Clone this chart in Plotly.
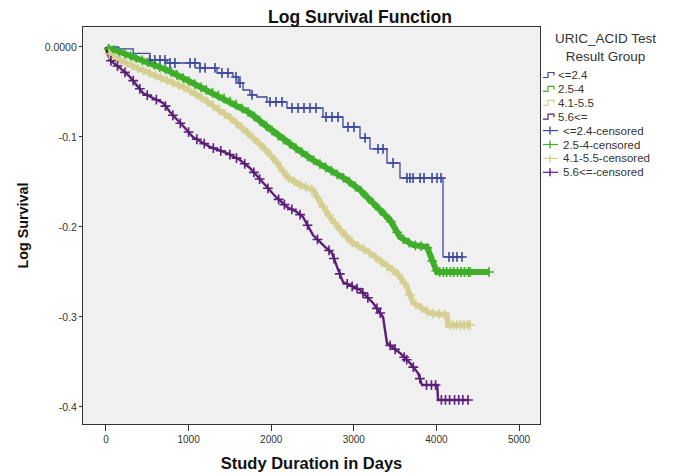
import numpy as np
import plotly.graph_objects as go

# ---------------- data ----------------
x_ticks = [0, 1000, 2000, 3000, 4000, 5000]
y_ticks = [0.0, -0.1, -0.2, -0.3, -0.4]
y_tick_labels = ["0.0000", "-0.1", "-0.2", "-0.3", "-0.4"]

groups = ["<=2.4", "2.5-4", "4.1-5.5", "5.6<="]
legend_title = "URIC_ACID Test<br>Result Group"

# curve points (days, log survival)
blue_t = [0, 150, 330, 533, 739, 1138, 1344, 1538, 1600, 1659, 1743, 1828, 1949,
          2191, 2627, 2869, 3075, 3196, 3402, 3559, 4080, 4310]
blue_s = [0, -0.002, -0.007, -0.0144, -0.0178, -0.0233, -0.0289, -0.0333, -0.0400,
          -0.0478, -0.0533, -0.0556, -0.0611, -0.0678, -0.0778, -0.0889, -0.1011,
          -0.1133, -0.1289, -0.1456, -0.2333, -0.2333]
blue_cens = [533, 593, 654, 714, 775, 835, 1017, 1078, 1138, 1199, 1320, 1404, 1477,
             1574, 1622, 1768, 1986, 2058, 2131, 2252, 2325, 2397, 2470, 2542, 2664,
             2736, 2809, 2930, 3002, 3136, 3293, 3354, 3475, 3644, 3680, 3717, 3802,
             3850, 3947, 4007, 4056, 4153, 4201, 4249, 4310]

green_t = [0, 12, 170, 327, 533, 739, 932, 1138, 1344, 1538, 1743, 1925, 2107, 2312,
           2506, 2712, 2918, 3075, 3160, 3317, 3438, 3559, 3717, 3886, 3923, 3959, 4007,
           4637]
green_s = [0, -0.0011, -0.0056, -0.0111, -0.0178, -0.0256, -0.0344, -0.0444, -0.0533,
           -0.0622, -0.0733, -0.0867, -0.1000, -0.1133, -0.1256, -0.1367, -0.1478,
           -0.1589, -0.1667, -0.1811, -0.1922, -0.2111, -0.2200, -0.2222, -0.2311,
           -0.2400, -0.2500, -0.2500]
green_cens = [35, 95, 160, 230, 300, 365, 440, 505, 580, 650, 720, 790, 860, 935, 1000,
              1075, 1150, 1215, 1290, 1360, 1430, 1505, 1575, 1650, 1720, 1795, 1865,
              1940, 2010, 2085, 2150, 2225, 2300, 2370, 2440, 2515, 2590, 2660, 2730,
              2800, 2875, 2945, 3020, 3090, 3165, 3235, 3310, 3380, 3450, 3525, 3600,
              3670, 3745, 3815, 3890, 3950, 4000, 4040, 4085, 4125, 4170, 4210, 4255,
              4300, 4340, 4385, 4410, 4637]

khaki_t = [0, 24, 48, 291, 533, 739, 932, 1102, 1259, 1404, 1538, 1743, 1901, 2046,
           2191, 2349, 2506, 2615, 2712, 2857, 2990, 3196, 3378, 3523, 3644, 3717,
           3923, 4128, 4141, 4407]
khaki_s = [0, -0.0056, -0.0089, -0.0200, -0.0289, -0.0367, -0.0444, -0.0533, -0.0622,
           -0.0722, -0.0811, -0.0978, -0.1111, -0.1256, -0.1444, -0.1533, -0.1589,
           -0.1756, -0.1889, -0.2056, -0.2178, -0.2289, -0.2422, -0.2511, -0.2667,
           -0.2844, -0.2956, -0.2978, -0.3089, -0.3089]
khaki_cens = [40, 110, 175, 250, 320, 390, 455, 530, 600, 665, 740, 810, 880, 945, 1020,
              1090, 1160, 1230, 1300, 1370, 1440, 1510, 1580, 1650, 1715, 1790, 1860,
              1930, 2000, 2070, 2140, 2210, 2280, 2350, 2420, 2490, 2560, 2630, 2700,
              2770, 2840, 2910, 2980, 3050, 3120, 3190, 3260, 3330, 3400, 3470, 3540,
              3610, 3680, 3750, 3820, 3890, 3960, 4030, 4100, 4160, 4200, 4245, 4290,
              4335, 4380, 4407]

purple_t = [0, 12, 48, 170, 291, 375, 448, 569, 690, 775, 860, 956, 1053, 1259, 1465,
            1622, 1743, 1901, 2046, 2191, 2312, 2385, 2506, 2651, 2736, 2797, 2869,
            3075, 3233, 3354, 3402, 3559, 3680, 3777, 3826, 4010, 4020, 4383]
purple_s = [0, -0.0056, -0.0144, -0.0233, -0.0333, -0.0422, -0.0511, -0.0567, -0.0622,
            -0.0722, -0.0811, -0.0900, -0.1000, -0.1111, -0.1178, -0.1256, -0.1344,
            -0.1511, -0.1656, -0.1778, -0.1833, -0.1889, -0.2089, -0.2222, -0.2289,
            -0.2444, -0.2611, -0.2700, -0.2844, -0.3000, -0.3289, -0.3400, -0.3511,
            -0.3622, -0.3756, -0.3756, -0.3922, -0.3922]
purple_cens = [60, 140, 230, 330, 410, 500, 610, 720, 810, 900, 1000, 1100, 1190, 1300,
               1390, 1500, 1580, 1680, 1790, 1860, 1960, 2090, 2160, 2250, 2350, 2440,
               2560, 2700, 2760, 2830, 2920, 2980, 3040, 3110, 3170, 3280, 3320, 3440,
               3500, 3610, 3640, 3720, 3800, 3880, 3940, 3990, 4060, 4110, 4160, 4220,
               4270, 4320, 4383]

colors = ["#3d47a0", "#3fae29", "#d5d092", "#5a1d78"]

# ---------------- geometry (page has an 8px body margin) ----------------
OFF = 8
W, H = 673 - OFF, 473 - OFF
L, R, T, B = 83 - OFF, 133, 27 - OFF, 49
PW, PH = W - L - R, H - T - B


def px_x(p):  # page pixel -> paper (layout helper for legend glyphs)
    return (p - OFF - L) / PW


def px_y(p):
    return (H - B - (p - OFF)) / PH


series = [
    (blue_t, blue_s, blue_cens, "hv", 1.3, 7),
    (green_t, green_s, green_cens, "linear", 6.0, 7),
    (khaki_t, khaki_s, khaki_cens, "linear", 5.5, 7),
    (purple_t, purple_s, purple_cens, "linear", 2.4, 7),
]

fig = go.Figure()
for (t, s, cens, shape, w, ms), name, col in zip(series, groups, colors):
    fig.add_trace(go.Scatter(x=t, y=s, mode="lines", line=dict(color=col, width=w, shape=shape),
                             name=name, showlegend=False))
for (t, s, cens, shape, w, ms), name, col in zip(series, groups, colors):
    if shape == "hv":
        idx = np.searchsorted(np.asarray(t), np.asarray(cens), side="right") - 1
        cy = np.asarray(s)[idx]
    else:
        cy = np.interp(cens, t, s)  # marks sit on the drawn curve
    fig.add_trace(go.Scatter(x=cens, y=cy, mode="markers",
                             marker=dict(symbol="cross-thin-open", size=ms, color=col,
                                         line=dict(color=col, width=1.6)),
                             name=name + "-censored", showlegend=False))

# ---------------- legend (drawn as layout text + glyphs) ----------------
annotations = [dict(text=legend_title, xref="paper", yref="paper", x=px_x(605), y=px_y(47),
                    xanchor="center", yanchor="middle", showarrow=False, align="center",
                    font=dict(size=13.5, color="#333333"))]
shapes = []
row0, row_gap = 75, 13.9
entries = [(g, c, False) for g, c in zip(groups, colors)] + \
          [(g + "-censored", c, True) for g, c in zip(groups, colors)]
for i, (label, col, cens) in enumerate(entries):
    yc = row0 + i * row_gap
    if not cens:
        path = "M {} {} L {} {} L {} {} L {} {} L {} {}".format(
            px_x(543), px_y(yc + 2.5), px_x(548), px_y(yc + 2.5), px_x(548), px_y(yc - 2.5),
            px_x(554), px_y(yc - 2.5), px_x(554), px_y(yc + 0.5))
        shapes.append(dict(type="path", path=path, xref="paper", yref="paper",
                           line=dict(color=col, width=1.2)))
        tx = 556
    else:
        shapes.append(dict(type="line", xref="paper", yref="paper", x0=px_x(543), x1=px_x(558),
                           y0=px_y(yc), y1=px_y(yc), line=dict(color=col, width=1.2)))
        shapes.append(dict(type="line", xref="paper", yref="paper", x0=px_x(550), x1=px_x(550),
                           y0=px_y(yc - 4), y1=px_y(yc + 4), line=dict(color=col, width=1.4)))
        tx = 561
    annotations.append(dict(text=label, xref="paper", yref="paper", x=px_x(tx), y=px_y(yc),
                            xanchor="left", yanchor="middle", showarrow=False,
                            font=dict(size=11.5, color="#333333")))

x_tick_font = dict(family="Liberation Sans, Arial, sans-serif", size=10, color="#333333")
y_tick_font = dict(family="Liberation Sans, Arial, sans-serif", size=10.5, color="#333333")

fig.update_layout(
    width=W, height=H,
    margin=dict(l=L, r=R, t=T, b=B, autoexpand=False),
    paper_bgcolor="white",
    plot_bgcolor="#f0f0f0",
    showlegend=False,
    font=dict(family="Liberation Sans, Arial, sans-serif", color="#000000"),
    title=dict(text="<b>Log Survival Function</b>", x=(360 - OFF) / W, xanchor="center",
               y=1 - 2.5 / H, yanchor="top", pad=dict(t=0, b=0),
               font=dict(size=17.5, color="#111111")),
    xaxis=dict(range=[-278, 5254], tickvals=x_ticks, ticks="outside", ticklen=6, tickcolor="#333",
               showgrid=False, zeroline=False, showline=True, linecolor="#333", linewidth=1.2,
               mirror=True, tickfont=x_tick_font, automargin=False,
               title=dict(text="<b>Study Duration in Days</b>", font=dict(size=16.5, color="#111"), standoff=13)),
    yaxis=dict(range=[-0.4189, 0.0222], tickvals=y_ticks, ticktext=y_tick_labels, ticks="outside",
               ticklen=3, tickcolor="#333", showgrid=False, zeroline=False, showline=True,
               linecolor="#333", linewidth=1.2, mirror=True, tickfont=y_tick_font, automargin=False,
               title=dict(text="<b>Log Survival</b>", font=dict(size=14.3, color="#111"), standoff=12)),
    annotations=annotations,
    shapes=shapes,
)

fig.write_html("out.html")
